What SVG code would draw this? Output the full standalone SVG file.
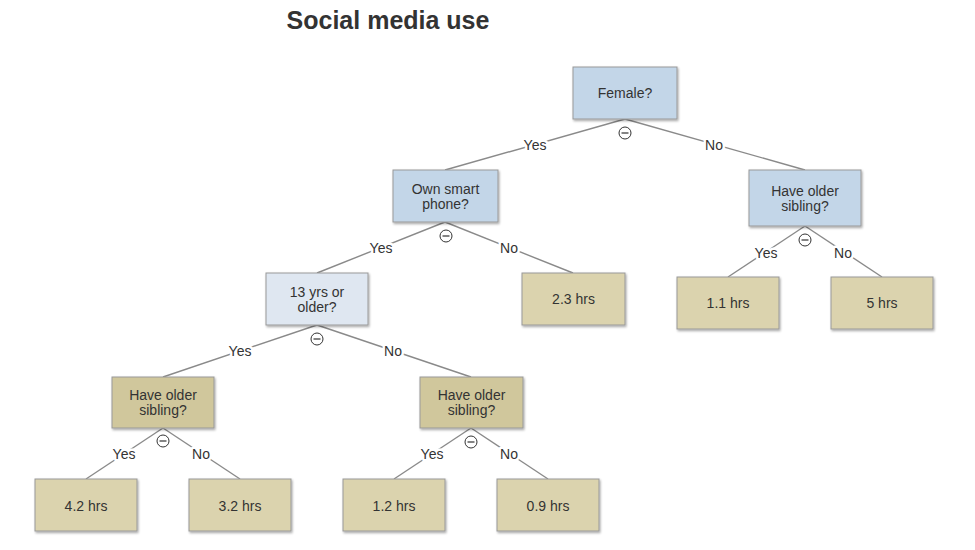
<svg xmlns="http://www.w3.org/2000/svg" width="975" height="550" viewBox="0 0 975 550">
<defs>
<filter id="sh" x="-10%" y="-10%" width="130%" height="140%">
<feDropShadow dx="1" dy="1.5" stdDeviation="1.2" flood-color="#000" flood-opacity="0.35"/>
</filter>
<style>
.box{stroke:#999;stroke-width:1;filter:url(#sh)}
.q{fill:#c3d6e8}
.ql{fill:#dfe7f1}
.qt{fill:#d0c79c}
.lf{fill:#dbd3ae}
.t{font-family:"Liberation Sans",Arial,sans-serif;font-size:14px;fill:#333;text-anchor:middle}
.el{font-family:"Liberation Sans",Arial,sans-serif;font-size:14px;fill:#333;text-anchor:middle;stroke:#fff;stroke-width:5;paint-order:stroke;stroke-linejoin:round}
.e{stroke:#8a8a8a;stroke-width:1.4;fill:none}
.c{fill:#fff;stroke:#333;stroke-width:1}
.m{stroke:#333;stroke-width:1.2}
.title{font-family:"Liberation Sans",Arial,sans-serif;font-size:25px;font-weight:bold;fill:#333;text-anchor:middle}
</style>
</defs>
<rect width="975" height="550" fill="#fff"/>
<text class="title" x="388" y="29">Social media use</text>
<g id="connectors">
<line class="e" x1="625" y1="119" x2="445" y2="170"/>
<line class="e" x1="625" y1="119" x2="805" y2="170"/>
<line class="e" x1="445" y1="222" x2="317" y2="273"/>
<line class="e" x1="445" y1="222" x2="573" y2="273"/>
<line class="e" x1="805" y1="226" x2="728" y2="277"/>
<line class="e" x1="805" y1="226" x2="882" y2="277"/>
<line class="e" x1="317" y1="325" x2="163" y2="377"/>
<line class="e" x1="317" y1="325" x2="471" y2="377"/>
<line class="e" x1="163" y1="428" x2="86" y2="479"/>
<line class="e" x1="163" y1="428" x2="240" y2="479"/>
<line class="e" x1="471" y1="428" x2="394" y2="479"/>
<line class="e" x1="471" y1="428" x2="548" y2="479"/>
<text class="el" x="535" y="150">Yes</text>
<text class="el" x="714" y="150">No</text>
<text class="el" x="381" y="253">Yes</text>
<text class="el" x="509" y="253">No</text>
<text class="el" x="766" y="258">Yes</text>
<text class="el" x="843" y="258">No</text>
<text class="el" x="240" y="356">Yes</text>
<text class="el" x="393" y="356">No</text>
<text class="el" x="124" y="459">Yes</text>
<text class="el" x="201" y="459">No</text>
<text class="el" x="432" y="459">Yes</text>
<text class="el" x="509" y="459">No</text>
</g>
<g id="female">
<rect class="box q" x="573" y="67" width="104" height="52"/>
<text class="t" x="625" y="98">Female?</text>
<circle class="c" cx="625" cy="133" r="6"/><line class="m" x1="621.5" y1="133" x2="628.5" y2="133"/>
</g>
<g id="smartphone">
<rect class="box q" x="393" y="170" width="105" height="52"/>
<text class="t" x="445.5" y="194">Own smart</text>
<text class="t" x="445.5" y="209">phone?</text>
<circle class="c" cx="446" cy="236" r="6"/><line class="m" x1="442.5" y1="236" x2="449.5" y2="236"/>
</g>
<g id="sibling-top">
<rect class="box q" x="749" y="170" width="112" height="56"/>
<text class="t" x="805" y="196">Have older</text>
<text class="t" x="805" y="211">sibling?</text>
<circle class="c" cx="805" cy="240" r="6"/><line class="m" x1="801.5" y1="240" x2="808.5" y2="240"/>
</g>
<g id="age">
<rect class="box ql" x="266" y="273" width="102" height="52"/>
<text class="t" x="317" y="297">13 yrs or</text>
<text class="t" x="317" y="312">older?</text>
<circle class="c" cx="317" cy="339" r="6"/><line class="m" x1="313.5" y1="339" x2="320.5" y2="339"/>
</g>
<g id="leaf-2-3">
<rect class="box lf" x="522" y="273" width="103" height="52"/>
<text class="t" x="573.5" y="304">2.3 hrs</text>
</g>
<g id="leaf-1-1">
<rect class="box lf" x="677" y="277" width="102" height="52"/>
<text class="t" x="728" y="308">1.1 hrs</text>
</g>
<g id="leaf-5">
<rect class="box lf" x="831" y="277" width="102" height="52"/>
<text class="t" x="882" y="308">5 hrs</text>
</g>
<g id="sibling-left">
<rect class="box qt" x="112" y="377" width="102" height="51"/>
<text class="t" x="163" y="400">Have older</text>
<text class="t" x="163" y="415">sibling?</text>
<circle class="c" cx="163" cy="441" r="6"/><line class="m" x1="159.5" y1="441" x2="166.5" y2="441"/>
</g>
<g id="sibling-mid">
<rect class="box qt" x="420" y="377" width="103" height="51"/>
<text class="t" x="471.5" y="400">Have older</text>
<text class="t" x="471.5" y="415">sibling?</text>
<circle class="c" cx="471" cy="442" r="6"/><line class="m" x1="467.5" y1="442" x2="474.5" y2="442"/>
</g>
<g id="leaf-4-2">
<rect class="box lf" x="35" y="479" width="102" height="52"/>
<text class="t" x="86" y="511">4.2 hrs</text>
</g>
<g id="leaf-3-2">
<rect class="box lf" x="189" y="479" width="102" height="52"/>
<text class="t" x="240" y="511">3.2 hrs</text>
</g>
<g id="leaf-1-2">
<rect class="box lf" x="343" y="479" width="102" height="52"/>
<text class="t" x="394" y="511">1.2 hrs</text>
</g>
<g id="leaf-0-9">
<rect class="box lf" x="497" y="479" width="102" height="52"/>
<text class="t" x="548" y="511">0.9 hrs</text>
</g>
</svg>
